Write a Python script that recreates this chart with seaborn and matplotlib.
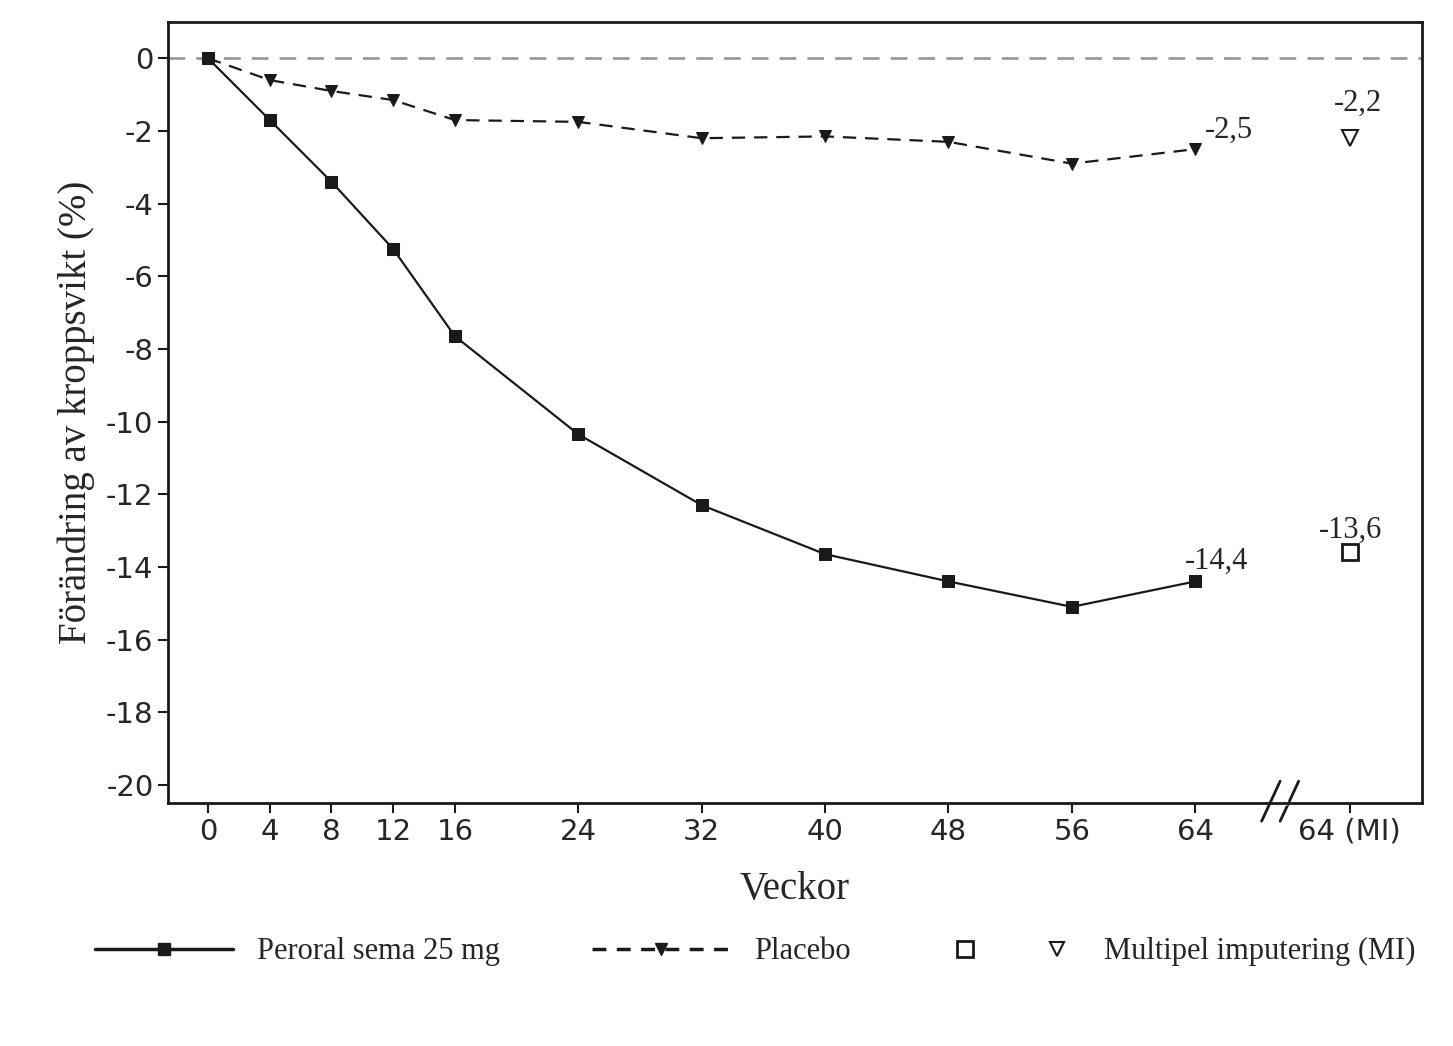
import pandas as pd
import matplotlib.pyplot as plt
import seaborn as sns
from matplotlib.lines import Line2D
from matplotlib.legend_handler import HandlerTuple

veckor = [0, 4, 8, 12, 16, 24, 32, 40, 48, 56, 64]
sema = [0, -1.7, -3.4, -5.25, -7.65, -10.35, -12.3, -13.65, -14.4, -15.1, -14.4]
placebo = [0, -0.6, -0.9, -1.15, -1.7, -1.75, -2.2, -2.15, -2.3, -2.9, -2.5]
mi_vecka = 74
mi_sema = -13.6
mi_placebo = -2.2
xtick_pos = [0, 4, 8, 12, 16, 24, 32, 40, 48, 56, 64, 74]
xtick_lab = ['0', '4', '8', '12', '16', '24', '32', '40', '48', '56', '64', '64 (MI)']

df = pd.DataFrame({'vecka': veckor * 2,
                   'andring': sema + placebo,
                   'grupp': ['sema'] * len(veckor) + ['placebo'] * len(veckor)})

sns.set_theme(style="ticks")
plt.rcParams['font.family'] = ['DejaVu Sans']
serif = 'Liberation Serif'

fig = plt.figure(figsize=(14.53, 10.46), dpi=100)
ax = fig.add_axes([0.1156, 0.2323, 0.8631, 0.7467])

ax.axhline(0, color='#999999', lw=2, ls=(0, (6, 4)), zorder=0)
sns.lineplot(data=df[df.grupp == 'sema'], x='vecka', y='andring', ax=ax, color='#1a1a1a',
             lw=1.6, marker='s', markersize=8, markeredgecolor='#1a1a1a')
sns.lineplot(data=df[df.grupp == 'placebo'], x='vecka', y='andring', ax=ax, color='#1a1a1a',
             lw=1.6, ls=(0, (6, 4)), marker='v', markersize=8, markeredgecolor='#1a1a1a')
ax.plot([mi_vecka], [mi_sema], marker='s', ms=11, mfc='white', mec='#1a1a1a', mew=2, ls='none')
ax.plot([mi_vecka], [mi_placebo], marker='v', ms=11, mfc='white', mec='#1a1a1a', mew=1.5, ls='none')

ax.text(64.6, -2.2, '-2,5', fontsize=22, family=serif)
ax.text(73.0, -1.45, '-2,2', fontsize=22, family=serif)
ax.text(63.3, -14.05, '-14,4', fontsize=22, family=serif)
ax.text(72.0, -13.2, '-13,6', fontsize=22, family=serif)

ax.set_xlim(-2.6, 78.7)
ax.set_ylim(-20.5, 1.0)
ax.set_xticks(xtick_pos)
ax.set_xticklabels(xtick_lab, fontsize=21)
ax.set_yticks(range(-20, 1, 2))
ax.set_yticklabels([str(v) for v in range(-20, 1, 2)], fontsize=21)
ax.tick_params(length=7, width=1.5, color='#1a1a1a')
for s in ax.spines.values():
    s.set_linewidth(2)
    s.set_color('#1a1a1a')
ax.set_xlabel('Veckor', fontsize=28, family=serif, labelpad=18)
ax.set_ylabel('Förändring av kroppsvikt (%)', fontsize=28, family=serif, labelpad=8)

# axelbrytning
for dx in (-0.6, 0.6):
    ax.plot([68.9 + dx, 70.1 + dx], [-21.0, -19.9], color='#1a1a1a', lw=2, clip_on=False)
ax.plot([69.45, 69.9], [-20.5, -20.5], color='white', lw=4, clip_on=False)

h1 = Line2D([], [], color='#1a1a1a', lw=2.5, marker='s', ms=8)
h2 = Line2D([], [], color='#1a1a1a', lw=2.5, ls=(0, (4, 3)), marker='v', ms=8)
h3a = Line2D([], [], ls='none', marker='s', ms=11, mfc='white', mec='#1a1a1a', mew=2)
h3b = Line2D([], [], ls='none', marker='v', ms=10, mfc='white', mec='#1a1a1a', mew=1.5)
fig.legend([h1, h2, (h3a, h3b)],
           ['Peroral sema 25 mg', 'Placebo', 'Multipel imputering (MI)'],
           handler_map={tuple: HandlerTuple(ndivide=None, pad=1.5)},
           loc='center', bbox_to_anchor=(0.52, 0.09), ncol=3, frameon=False,
           handlelength=4.5, columnspacing=3, prop={'family': serif, 'size': 22})

fig.savefig('out.png', dpi=100)
